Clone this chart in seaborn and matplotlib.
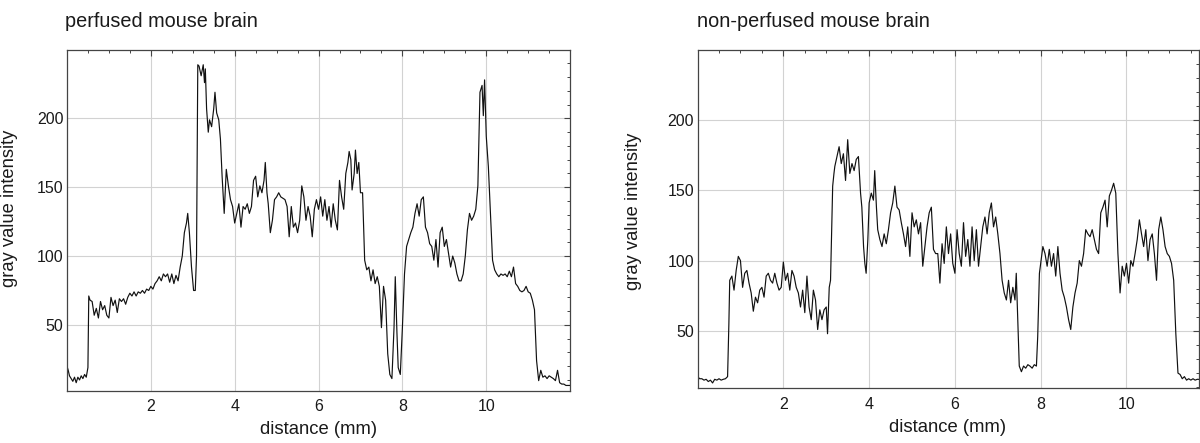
import matplotlib
matplotlib.use("Agg")
import matplotlib.pyplot as plt
import pandas as pd
import seaborn as sns
from matplotlib.ticker import MultipleLocator, FixedLocator

# ---------------- data ----------------
titles = ["perfused mouse brain", "non-perfused mouse brain"]
x_label = "distance (mm)"
y_label = "gray value intensity"
x_ticks = [2, 4, 6, 8, 10]
y_ticks = [50, 100, 150, 200]

perf_x = [0.00, 0.03, 0.06, 0.10, 0.14, 0.18, 0.22, 0.26, 0.30, 0.34, 0.38, 0.42, 0.46, 0.50,
          0.52, 0.55, 0.60, 0.65, 0.70, 0.75, 0.80, 0.85, 0.90, 0.95, 1.00, 1.05, 1.10, 1.15,
          1.20, 1.25, 1.30, 1.35, 1.40, 1.45, 1.50, 1.55, 1.60, 1.65, 1.70, 1.75, 1.80, 1.85,
          1.90, 1.95, 2.00, 2.05, 2.10, 2.15, 2.20, 2.25, 2.30, 2.35, 2.40, 2.45, 2.50, 2.55,
          2.60, 2.65, 2.70, 2.75, 2.80, 2.85, 2.88, 2.92, 2.97, 3.02, 3.06, 3.09, 3.12, 3.15,
          3.20, 3.25, 3.28, 3.30, 3.33, 3.37, 3.40, 3.45, 3.50, 3.53, 3.57, 3.62, 3.66, 3.70,
          3.75, 3.80, 3.85, 3.90, 3.95, 4.00, 4.05, 4.10, 4.15, 4.20, 4.25, 4.30, 4.35, 4.40,
          4.45, 4.50, 4.55, 4.60, 4.65, 4.70, 4.73, 4.77, 4.80, 4.85, 4.90, 4.95, 5.00, 5.05,
          5.10, 5.15, 5.20, 5.25, 5.30, 5.35, 5.40, 5.45, 5.50, 5.55, 5.60, 5.65, 5.70, 5.75,
          5.80, 5.85, 5.90, 5.95, 6.00, 6.05, 6.10, 6.15, 6.20, 6.25, 6.30, 6.35, 6.40, 6.45,
          6.50, 6.55, 6.60, 6.65, 6.70, 6.73, 6.77, 6.80, 6.85, 6.88, 6.92, 6.96, 7.00, 7.05,
          7.10, 7.15, 7.20, 7.25, 7.30, 7.35, 7.40, 7.45, 7.50, 7.55, 7.60, 7.65, 7.70, 7.75,
          7.80, 7.83, 7.87, 7.90, 7.95, 8.00, 8.05, 8.10, 8.15, 8.20, 8.25, 8.30, 8.35, 8.40,
          8.45, 8.50, 8.55, 8.60, 8.65, 8.70, 8.75, 8.80, 8.85, 8.90, 8.95, 9.00, 9.05, 9.10,
          9.15, 9.20, 9.25, 9.30, 9.35, 9.40, 9.45, 9.50, 9.55, 9.60, 9.65, 9.70, 9.75, 9.80,
          9.85, 9.90, 9.93, 9.96, 10.00, 10.05, 10.10, 10.15, 10.20, 10.25, 10.30, 10.35, 10.40,
          10.45, 10.50, 10.55, 10.60, 10.65, 10.70, 10.75, 10.80, 10.85, 10.90, 10.95, 11.00,
          11.05, 11.10, 11.15, 11.20, 11.25, 11.30, 11.35, 11.40, 11.45, 11.50, 11.55, 11.60,
          11.65, 11.70, 11.75, 11.80, 11.85, 11.90, 12.00]
perf_y = [20, 17, 13, 11, 9, 12, 8, 12, 10, 13, 11, 14, 12, 19,
          71, 68, 67, 57, 62, 55, 67, 61, 64, 57, 55, 70, 64, 68,
          59, 69, 67, 69, 65, 70, 73, 71, 74, 71, 74, 73, 75, 73,
          76, 75, 78, 76, 80, 82, 85, 82, 87, 85, 87, 81, 87, 80,
          86, 82, 92, 100, 117, 124, 131, 117, 92, 75, 75, 100, 239, 238,
          231, 239, 226, 236, 207, 190, 199, 194, 207, 219, 204, 199, 185, 158,
          131, 163, 151, 141, 136, 124, 131, 138, 121, 136, 134, 138, 131, 136,
          155, 158, 143, 151, 146, 155, 168, 146, 138, 117, 126, 141, 143, 146,
          143, 142, 141, 136, 114, 136, 121, 124, 117, 126, 151, 143, 126, 136,
          129, 114, 134, 141, 134, 143, 129, 141, 126, 136, 121, 138, 126, 119,
          155, 143, 134, 160, 168, 176, 170, 148, 160, 177, 160, 168, 146, 146,
          97, 90, 92, 82, 90, 80, 85, 78, 48, 78, 68, 29, 14, 11,
          48, 85, 44, 19, 14, 48, 87, 107, 112, 117, 121, 131, 138, 129,
          141, 143, 121, 117, 109, 107, 97, 112, 92, 117, 121, 107, 112, 102,
          92, 100, 95, 87, 82, 82, 87, 100, 119, 131, 126, 129, 134, 151,
          219, 224, 202, 228, 187, 165, 131, 97, 90, 87, 85, 87, 86,
          87, 85, 89, 85, 92, 80, 78, 75, 74, 75, 78, 74,
          73, 68, 61, 24, 9.5, 17, 12, 13, 11, 13, 12, 11,
          9.5, 17, 8, 7, 7, 6, 6]

nonp_x = [0.00, 0.05, 0.10, 0.15, 0.20, 0.25, 0.30, 0.35, 0.40, 0.45, 0.50, 0.55, 0.60, 0.65,
          0.70, 0.73, 0.75, 0.80, 0.85, 0.90, 0.95, 1.00, 1.05, 1.10, 1.15, 1.20, 1.25, 1.30,
          1.35, 1.40, 1.45, 1.50, 1.55, 1.60, 1.65, 1.70, 1.75, 1.80, 1.85, 1.90, 1.95, 2.00,
          2.05, 2.10, 2.15, 2.20, 2.25, 2.30, 2.35, 2.40, 2.45, 2.50, 2.55, 2.60, 2.65, 2.70,
          2.75, 2.80, 2.85, 2.90, 2.95, 3.00, 3.03, 3.07, 3.10, 3.15, 3.18, 3.20, 3.25, 3.30,
          3.35, 3.40, 3.45, 3.50, 3.55, 3.60, 3.65, 3.70, 3.75, 3.80, 3.83, 3.87, 3.90, 3.93,
          3.97, 4.00, 4.05, 4.10, 4.13, 4.17, 4.20, 4.25, 4.30, 4.35, 4.40, 4.45, 4.50, 4.55,
          4.60, 4.65, 4.70, 4.75, 4.80, 4.85, 4.90, 4.95, 5.00, 5.05, 5.10, 5.15, 5.20, 5.25,
          5.30, 5.35, 5.40, 5.45, 5.50, 5.55, 5.60, 5.65, 5.70, 5.75, 5.80, 5.85, 5.90, 5.95,
          6.00, 6.05, 6.10, 6.15, 6.20, 6.25, 6.30, 6.35, 6.40, 6.45, 6.50, 6.55, 6.60, 6.65,
          6.70, 6.75, 6.80, 6.85, 6.90, 6.95, 7.00, 7.05, 7.10, 7.15, 7.20, 7.25, 7.30, 7.35,
          7.40, 7.43, 7.47, 7.50, 7.55, 7.60, 7.65, 7.70, 7.75, 7.80, 7.85, 7.90, 7.93, 7.97,
          8.00, 8.05, 8.10, 8.15, 8.20, 8.25, 8.30, 8.35, 8.40, 8.45, 8.50, 8.55, 8.60, 8.65,
          8.70, 8.75, 8.80, 8.85, 8.90, 8.95, 9.00, 9.05, 9.10, 9.15, 9.20, 9.25, 9.30, 9.35,
          9.40, 9.45, 9.50, 9.55, 9.60, 9.65, 9.70, 9.75, 9.80, 9.85, 9.90, 9.95, 10.00, 10.05,
          10.10, 10.15, 10.20, 10.25, 10.30, 10.35, 10.40, 10.45, 10.50, 10.55, 10.60, 10.65,
          10.70, 10.75, 10.80, 10.85, 10.90, 10.95, 11.00, 11.05, 11.10, 11.15, 11.20, 11.25,
          11.30, 11.35, 11.40, 11.45, 11.50, 11.55, 11.60, 11.65, 11.70]
nonp_y = [17.5, 16, 16, 15, 15.6, 14, 15, 13, 15.6, 15, 16, 15, 15.6, 16,
          17.5, 55, 86, 89, 79, 93, 103, 100, 81, 91, 93, 84, 77, 64,
          74, 70, 79, 81, 74, 89, 91, 86, 84, 91, 84, 79, 81, 99,
          86, 91, 79, 93, 89, 81, 77, 67, 79, 63, 89, 67, 58, 79,
          72, 51, 65, 58, 65, 67, 48, 81, 86, 153, 162, 167, 174, 181,
          169, 176, 157, 186, 162, 169, 164, 172, 174, 148, 138, 110, 98, 91,
          115, 141, 148, 143, 164, 138, 122, 115, 110, 119, 112, 122, 134, 141,
          153, 138, 136, 127, 119, 110, 124, 103, 134, 124, 129, 119, 127, 96,
          110, 124, 134, 138, 108, 105, 105, 84, 112, 98, 124, 105, 119, 98,
          91, 122, 105, 96, 127, 103, 115, 96, 124, 100, 122, 96, 110, 124,
          131, 119, 134, 141, 124, 131, 119, 105, 86, 77, 72, 86, 70, 81,
          72, 91, 53, 25, 21, 25, 23.5, 26, 25, 23.5, 26, 25, 46, 91,
          98, 110, 105, 96, 108, 96, 105, 89, 110, 91, 79, 74, 67, 58,
          51, 67, 77, 84, 100, 96, 105, 122, 119, 117, 122, 115, 108, 105,
          134, 138, 143, 124, 146, 150, 155, 148, 105, 77, 96, 89, 98, 84,
          100, 96, 105, 115, 129, 119, 110, 122, 100, 115, 119, 105,
          86, 122, 131, 122, 110, 105, 103, 98, 86, 48, 20, 19,
          16, 17.5, 15, 16, 15, 16, 15, 15.6, 15.5]

# ---------------- style ----------------
sns.set_theme(style="white")
plt.rcParams["font.family"] = ["Liberation Sans", "DejaVu Sans"]

fig = plt.figure(figsize=(12, 4.43), dpi=100)
ax1 = fig.add_axes([0.0558, 0.1181, 0.4193, 0.7690])
ax2 = fig.add_axes([0.5813, 0.1235, 0.4175, 0.7637])

panels = [
    (ax1, perf_x, perf_y, (0, 12.0), (2.2, 249.7), -0.097, 0.536, 65),
    (ax2, nonp_x, nonp_y, (0, 11.68), (9.2, 249.8), -0.111, 0.524, 697),
]

for i, (ax, xs, ys, xl, yl, lx, ly, tx) in enumerate(panels):
    df = pd.DataFrame({"distance": xs, "intensity": ys})
    sns.lineplot(data=df, x="distance", y="intensity", ax=ax, color="#111111",
                 linewidth=0.85, estimator=None, sort=False)
    ax.set_xlim(*xl)
    ax.set_ylim(*yl)
    ax.xaxis.set_major_locator(FixedLocator(x_ticks))
    ax.yaxis.set_major_locator(FixedLocator(y_ticks))
    ax.xaxis.set_minor_locator(MultipleLocator(0.5))
    ax.yaxis.set_minor_locator(MultipleLocator(10))
    ax.set_axisbelow(True)
    ax.grid(True, which="major", color="#d2d2d2", linewidth=0.8)
    ax.tick_params(which="both", direction="in", top=True, right=True,
                   color="#444444", labelcolor="#1a1a1a", labelsize=11.5)
    ax.tick_params(which="major", length=4, width=0.8)
    ax.tick_params(which="minor", length=2.5, width=0.7)
    ax.tick_params(axis="x", which="major", pad=6)
    ax.tick_params(axis="y", which="major", pad=2.5)
    for s in ax.spines.values():
        s.set_color("#444444")
        s.set_linewidth(0.9)
    ax.set_xlabel(x_label, fontsize=13.3, color="#1a1a1a", labelpad=5)
    ax.set_ylabel(y_label, fontsize=13.2, color="#1a1a1a")
    ax.yaxis.set_label_coords(lx, ly)
    fig.text(tx / 1200, 1 - 27 / 443, titles[i], fontsize=14.3, color="#1a1a1a",
             ha="left", va="baseline")

fig.savefig("out.png", dpi=100, facecolor="white")
